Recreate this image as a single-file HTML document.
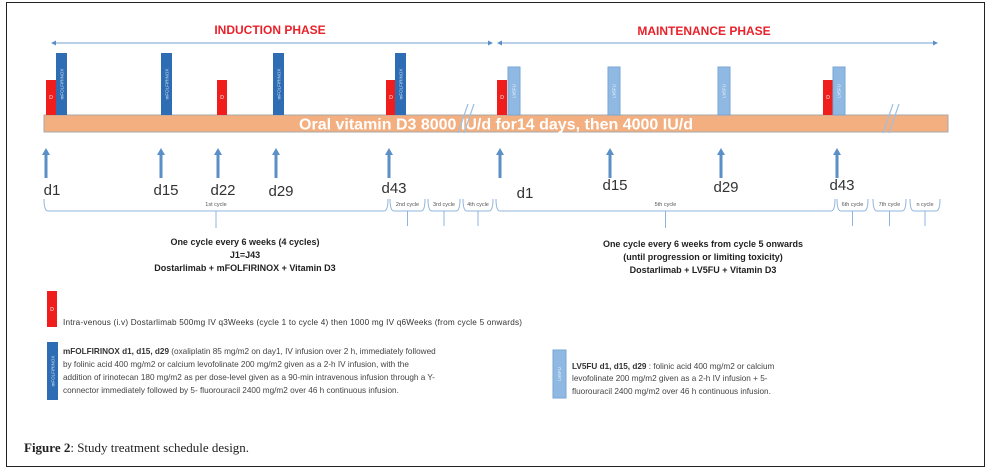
<!DOCTYPE html>
<html><head><meta charset="utf-8"><style>
body{margin:0;background:#fff}
svg{display:block;font-family:"Liberation Sans",sans-serif}
</style></head><body>
<svg width="990" height="473" viewBox="0 0 990 473">
<rect x="6.5" y="2.5" width="978" height="464" fill="#fff" stroke="#222" stroke-width="1"/>
<text x="270" y="34" font-size="12" font-weight="bold" fill="#e8222a" text-anchor="middle">INDUCTION PHASE</text>
<text x="704" y="35" font-size="12" font-weight="bold" fill="#e8222a" text-anchor="middle">MAINTENANCE PHASE</text>
<g stroke="#8fb4dc" stroke-width="1.2" fill="#5b8fc7">
<line x1="53" y1="43" x2="491" y2="43"/><path d="M51 43 l5 -2.5 v5z M493 43 l-5 -2.5 v5z" stroke="none"/>
<line x1="499" y1="43" x2="936" y2="43"/><path d="M497 43 l5 -2.5 v5z M938 43 l-5 -2.5 v5z" stroke="none"/>
</g>
<rect x="44" y="115" width="904" height="17" fill="#f3af7f" stroke="#a9a9a9" stroke-width="1"/>
<text x="496" y="129.5" font-size="16" font-weight="bold" fill="#fff" text-anchor="middle">Oral vitamin D3 8000 IU/d for14 days, then 4000 IU/d</text>
<g stroke="#9cc0e4" stroke-width="1.2">
<line x1="458" y1="133" x2="468" y2="104"/><line x1="464" y1="133" x2="474" y2="104"/>
<line x1="883" y1="133" x2="893" y2="104"/><line x1="889" y1="133" x2="899" y2="104"/>
</g>
<g id="marks"></g>
<g id="axis"></g>
<g fill="#222" font-size="13">
<g font-weight="bold" font-size="9" text-anchor="middle">
<text x="245" y="245">One cycle every 6 weeks (4 cycles)</text>
<text x="245" y="258">J1=J43</text>
<text x="245" y="271">Dostarlimab + mFOLFIRINOX + Vitamin D3</text>
<text x="703" y="247">One cycle every 6 weeks from cycle 5 onwards</text>
<text x="703" y="260">(until progression or limiting toxicity)</text>
<text x="703" y="273">Dostarlimab + LV5FU + Vitamin D3</text>
</g>
</g>
<rect x="47" y="291" width="10" height="36" fill="#f01d1d"/>
<text x="52" y="311" font-size="5" fill="#fff" text-anchor="middle">D</text>
<text x="63" y="325" font-size="8.2" fill="#333" textLength="459">Intra-venous (i.v) Dostarlimab 500mg IV q3Weeks (cycle 1 to cycle 4) then 1000 mg IV q6Weeks (from cycle 5 onwards)</text>
<rect x="47" y="342" width="11" height="58" fill="#2e6db4"/>
<text transform="translate(54.5,371) rotate(-90)" font-size="4.5" fill="#cfe0f3" text-anchor="middle">mFOLFIRINOX</text>
<g font-size="8.2" fill="#444">
<text x="63" y="354"><tspan font-weight="bold" fill="#333">mFOLFIRINOX d1, d15, d29</tspan> (oxaliplatin 85 mg/m2 on day1, IV infusion over 2 h, immediately followed</text>
<text x="63" y="367">by folinic acid 400 mg/m2 or calcium levofolinate 200 mg/m2 given as a 2-h IV infusion, with the</text>
<text x="63" y="380">addition of irinotecan 180 mg/m2 as per dose-level given as a 90-min intravenous infusion through a Y-</text>
<text x="63" y="393">connector immediately followed by 5- fluorouracil 2400 mg/m2 over 46 h continuous infusion.</text>
</g>
<rect x="553" y="350" width="13" height="48" fill="#8fb9e3" stroke="#7aa6d4"/>
<text transform="translate(561,374) rotate(-90)" font-size="4.5" fill="#eef4fb" text-anchor="middle">LV5FU</text>
<g font-size="8.2" fill="#444">
<text x="572" y="369"><tspan font-weight="bold" fill="#333">LV5FU d1, d15, d29</tspan> : folinic acid 400 mg/m2 or calcium</text>
<text x="572" y="381">levofolinate 200 mg/m2 given as a 2-h IV infusion + 5-</text>
<text x="572" y="394">fluorouracil 2400 mg/m2 over 46 h continuous infusion.</text>
</g>
<text x="24" y="452" font-family="Liberation Serif,serif" font-size="13" fill="#222"><tspan font-weight="bold">Figure 2</tspan>: Study treatment schedule design.</text>
</svg>
<script>
const redBoxes=[46,217,386,497,823];
const folfirinox=[56,161,273,395];
const lv5fu=[508,608,718,833];
const dayLabels=["d1","d15","d22","d29","d43","d1","d15","d29","d43"];
const dayX=[46,161,218,276,389,500,610,721,837];
const labelY=[195,195,195,196,193,198,190,192,190];
const cycleLabels=["1st cycle","2nd cycle","3rd cycle","4th cycle","5th cycle","6th cycle","7th cycle","n cycle"];
const cycleStart=[44,390,428,463,496,837,873,910];
const cycleEnd=[388,425,460,493,835,868,906,940];
const NS="http://www.w3.org/2000/svg";
const marks=document.getElementById('marks'),axis=document.getElementById('axis');
function mk(p,t,a){const e=document.createElementNS(NS,t);for(const k in a)e.setAttribute(k,a[k]);p.appendChild(e);return e;}
redBoxes.forEach(x=>{const r=mk(marks,'rect',{x:x,y:80,width:10,height:35,fill:'#f01d1d'});


const t=mk(marks,'text',{x:x+5,y:99,'font-size':5,fill:'#fff','text-anchor':'middle'});t.textContent='D';});
folfirinox.forEach(x=>{const r=mk(marks,'rect',{x:x,y:53,width:11,height:62,fill:'#2e6db4'});


const t=mk(marks,'text',{transform:`translate(${x+7.5},84) rotate(-90)`,'font-size':4.5,fill:'#cfe0f3','text-anchor':'middle'});t.textContent='mFOLFIRINOX';});
lv5fu.forEach(x=>{const r=mk(marks,'rect',{x:x,y:67,width:12,height:48,fill:'#8fb9e3',stroke:'#7aa6d4'});


const t=mk(marks,'text',{transform:`translate(${x+7.5},91) rotate(-90)`,'font-size':4.5,fill:'#eef4fb','text-anchor':'middle'});t.textContent='LV5FU';});
dayX.forEach((x,i)=>{const g=mk(axis,'g',{});


mk(g,'line',{x1:x,y1:154,x2:x,y2:178,stroke:'#5b8fc7','stroke-width':3});
mk(g,'path',{d:`M${x-4} 155 L${x} 148 L${x+4} 155Z`,fill:'#5b8fc7'});
const t=mk(g,'text',{x:x+(i==0?6:i==5?25:5),y:labelY[i],'font-size':15,fill:'#333','text-anchor':'middle'});t.textContent=dayLabels[i];});
cycleStart.forEach((s,i)=>{const e=cycleEnd[i],m=(s+e)/2;const g=mk(axis,'g',{});


mk(g,'path',{d:`M${s} 199 Q${s} 211 ${s+4} 211 L${e-4} 211 Q${e} 211 ${e} 199 M${m} 211 V${i==0||i==4?228:226}`,fill:'none',stroke:'#8fb4dc','stroke-width':1});
const t=mk(g,'text',{x:m,y:206,'font-size':5.5,fill:'#555','text-anchor':'middle'});t.textContent=cycleLabels[i];});
</script>
</body></html>
